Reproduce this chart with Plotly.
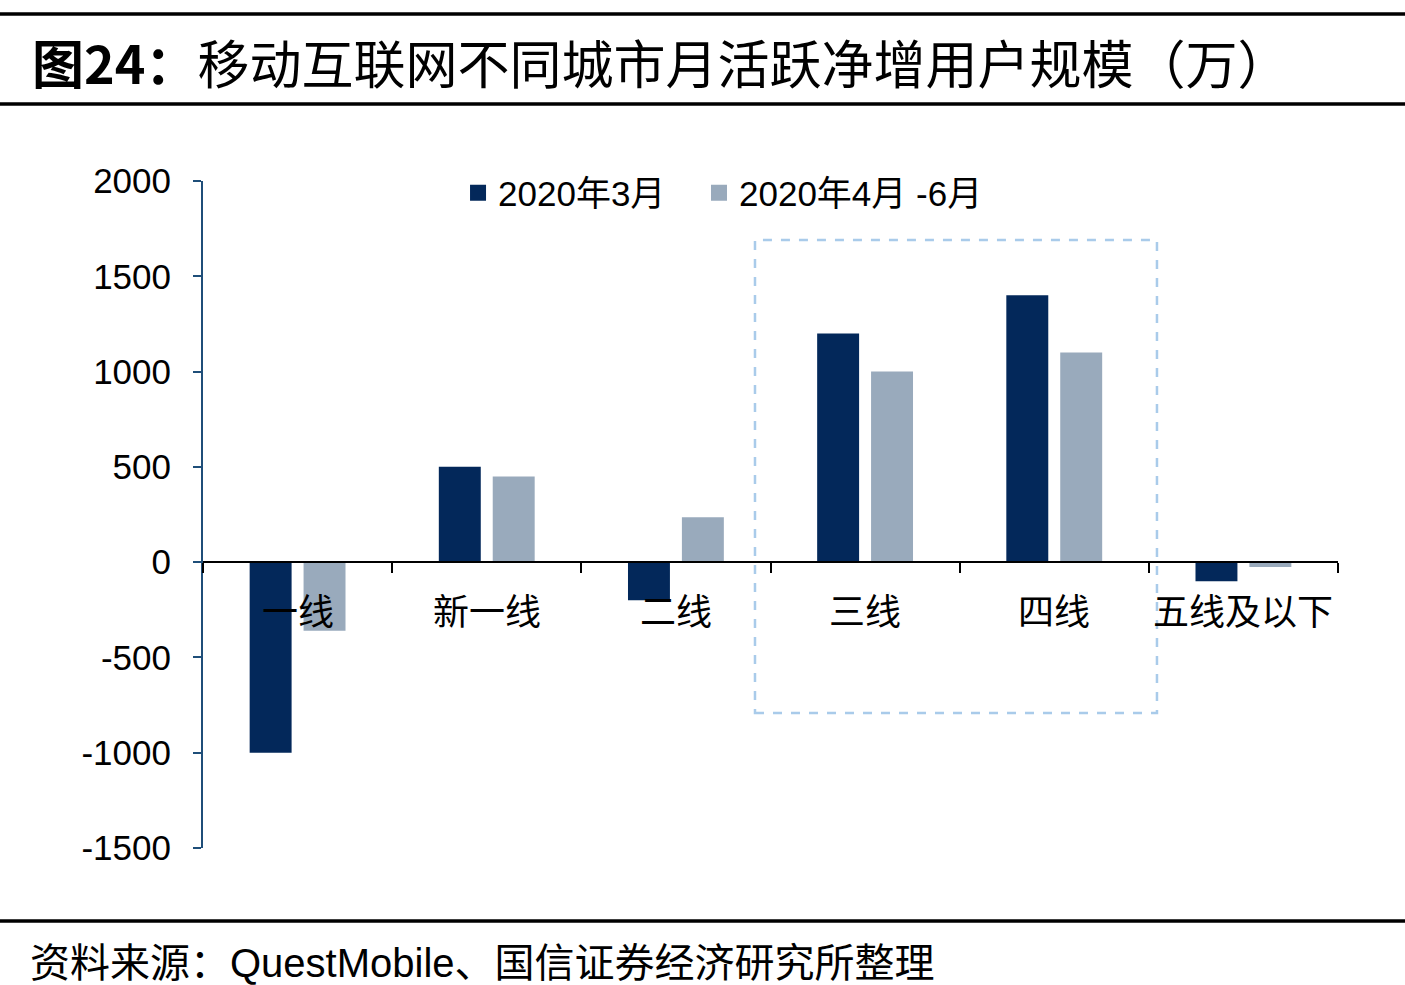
import plotly.graph_objects as go

categories = ["一线", "新一线", "二线", "三线", "四线", "五线及以下"]
series_names = ["2020年3月", "2020年4月 -6月"]
mar_values = [-1000, 500, -200, 1200, 1400, -100]
apr_jun_values = [-360, 450, 235, 1000, 1100, -25]
y_ticks = [-1500, -1000, -500, 0, 500, 1000, 1500, 2000]

title_text = "<b>图24：</b>移动互联网不同城市月活跃净增用户规模（万）"
source_text = "资料来源：QuestMobile、国信证券经济研究所整理"

DARK = "#03285A"
LIGHT = "#99AABC"
CJK = "Noto Sans CJK SC"
LAT = "Liberation Sans, Arial, " + CJK

fig = go.Figure()
fig.add_trace(go.Bar(x=categories, y=mar_values, name=series_names[0], showlegend=False,
                     marker=dict(color=DARK, line=dict(width=0))))
fig.add_trace(go.Bar(x=categories, y=apr_jun_values, name=series_names[1], showlegend=False,
                     marker=dict(color=LIGHT, line=dict(width=0))))
# legend entries with square swatches
fig.add_trace(go.Scatter(x=[None], y=[None], mode="markers", name=series_names[0],
                         marker=dict(symbol="square", size=17, color=DARK),
                         legend="legend", hoverinfo="skip"))
fig.add_trace(go.Scatter(x=[None], y=[None], mode="markers", name=series_names[1],
                         marker=dict(symbol="square", size=17, color=LIGHT),
                         legend="legend2", hoverinfo="skip"))

ymin, ymax = -1500, 2000
zero_pos = (0 - ymin) / (ymax - ymin)

legend_common = dict(orientation="h", y=0.982, xanchor="left", yanchor="middle",
                     font=dict(family=LAT, size=35, color="black"),
                     bgcolor="rgba(0,0,0,0)", itemwidth=30)

fig.update_layout(
    width=1405, height=985,
    margin=dict(l=203, r=67, t=181, b=137),
    paper_bgcolor="white", plot_bgcolor="white",
    barmode="group", bargap=0.43, bargroupgap=0.222,
    font=dict(family=LAT, size=34, color="black"),
    showlegend=True,
    legend=dict(x=0.2247, **legend_common),
    legend2=dict(x=0.437, **legend_common),
    xaxis=dict(type="category", range=[-0.5, 5.5], anchor="free", position=zero_pos,
               showline=True, linecolor="black", linewidth=2,
               tickmode="array", tickvals=[-0.5, 0.5, 1.5, 2.5, 3.5, 4.5, 5.5],
               ticktext=[""] * 7, ticks="outside", ticklen=10, tickwidth=2,
               tickcolor="black", showticklabels=False, showgrid=False, zeroline=False),
    yaxis=dict(range=[ymin, ymax], tickmode="array", tickvals=y_ticks,
               ticktext=[str(v) for v in y_ticks],
               showline=True, linecolor="#1F4E79", linewidth=2,
               ticks="outside", ticklen=8, tickwidth=2, tickcolor="#1F4E79",
               ticklabelstandoff=15,
               tickfont=dict(family=LAT, size=35, color="black"),
               showgrid=False, zeroline=False),
)

# category labels just under the zero line
for c in categories:
    fig.add_annotation(x=c, y=0, xref="x", yref="y", text=c, showarrow=False,
                       yanchor="top", yshift=-19,
                       font=dict(family=CJK, size=36, color="black"))

# dashed highlight box around 三线 / 四线
fig.add_shape(type="rect", xref="x", yref="y", x0=2.418, x1=4.543, y0=-792, y1=1690,
              line=dict(color="#A9CBEA", width=2.5, dash="dash"), fillcolor="rgba(0,0,0,0)",
              layer="above")

# header and footer rules (paper coords from pixels)
def py(Y):
    return (848 - Y) / 667.0

x_left = -203 / 1135.0
x_right = (1405 - 203) / 1135.0
for Y, w in [(14, 3.5), (104, 3.5), (921, 3.5)]:
    fig.add_shape(type="line", xref="paper", yref="paper", x0=x_left, x1=x_right,
                  y0=py(Y), y1=py(Y), line=dict(color="black", width=w))

fig.add_annotation(xref="paper", yref="paper", x=(30 - 203) / 1135.0, y=py(62),
                   xanchor="left", yanchor="middle", text=title_text, showarrow=False,
                   font=dict(family=CJK, size=52, color="black"))
fig.add_annotation(xref="paper", yref="paper", x=(28 - 203) / 1135.0, y=py(963),
                   xanchor="left", yanchor="middle", text=source_text, showarrow=False,
                   font=dict(family=LAT, size=40, color="black"))

fig.write_html("out.html", config={"displayModeBar": False},
               post_script="document.body.style.margin='0';")
